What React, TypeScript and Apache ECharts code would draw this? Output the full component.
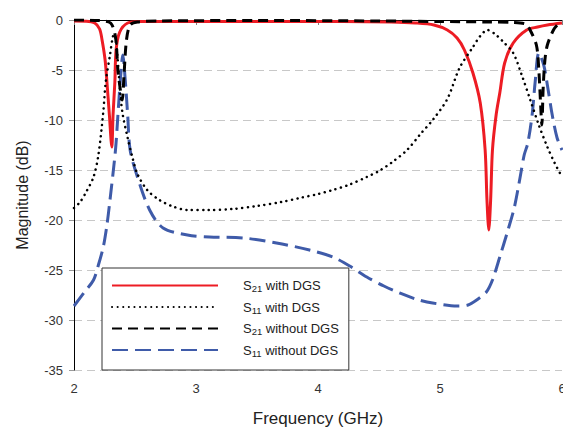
import React, { useEffect, useRef } from "react";
import * as echarts from "echarts";

// ---- Data ----
const s21DgsFreq = [2.0, 2.1, 2.17, 2.21, 2.23, 2.255, 2.27, 2.29, 2.31, 2.32, 2.335, 2.345, 2.375, 2.44, 2.54, 2.8, 3.5, 4.2, 4.6, 4.8, 4.95, 5.06, 5.14, 5.2, 5.27, 5.33, 5.37, 5.385, 5.4, 5.415, 5.43, 5.46, 5.49, 5.53, 5.6, 5.71, 5.8, 5.88, 6.0];
const s21DgsDb = [-0.1, -0.12, -0.3, -0.9, -2, -4, -6.2, -9.5, -12.7, -9.5, -6.2, -3, -1.2, -0.3, -0.15, -0.15, -0.15, -0.15, -0.2, -0.3, -0.5, -1, -1.8, -3, -5.3, -8.3, -13, -18, -21, -18, -13, -9.5, -7.3, -4.3, -2.3, -1, -0.7, -0.5, -0.3];

const s11DgsFreq = [2.0, 2.05, 2.1, 2.16, 2.2, 2.24, 2.26, 2.295, 2.32, 2.335, 2.355, 2.38, 2.4, 2.44, 2.48, 2.52, 2.6, 2.7, 2.8, 2.93, 3.1, 3.3, 3.5, 3.7, 3.85, 4.0, 4.12, 4.25, 4.4, 4.5, 4.61, 4.73, 4.84, 4.94, 5.06, 5.16, 5.27, 5.33, 5.39, 5.45, 5.52, 5.6, 5.67, 5.74, 5.81, 5.88, 5.94, 6.0];
const s11DgsDb = [-18.8, -18.2, -17.2, -15.7, -13.5, -9.2, -6.2, -3.5, -1.6, -1.5, -3.5, -7.5, -9.5, -11.8, -13.8, -15.4, -17, -18, -18.6, -19, -19, -18.9, -18.6, -18.2, -17.8, -17.4, -17, -16.5, -15.7, -15.1, -14.2, -13, -11.4, -10, -7.9, -4.8, -2.7, -1.6, -1.0, -1.4, -2.2, -3.3, -5.5, -8, -10.5, -12.7, -14.3, -15.7];

const s21NoDgsFreq = [2.0, 2.2, 2.3, 2.34, 2.36, 2.38, 2.395, 2.41, 2.43, 2.46, 2.52, 2.7, 3.5, 4.5, 5.0, 5.4, 5.6, 5.7, 5.73, 5.79, 5.81, 5.825, 5.835, 5.845, 5.86, 5.88, 5.93, 5.97, 6.0];
const s21NoDgsDb = [0, -0.05, -0.3, -1.7, -5, -7, -8, -5.5, -2, -0.5, -0.2, -0.1, -0.05, -0.1, -0.15, -0.2, -0.25, -0.4, -0.8, -2.5, -5, -8.5, -10.5, -7, -4, -2.5, -1, -0.4, -0.2];

const s11NoDgsFreq = [2.0, 2.08, 2.16, 2.2, 2.24, 2.27, 2.295, 2.34, 2.36, 2.38, 2.4, 2.42, 2.44, 2.46, 2.52, 2.62, 2.73, 2.93, 3.11, 3.39, 3.66, 3.93, 4.12, 4.26, 4.4, 4.54, 4.67, 4.8, 4.94, 5.14, 5.23, 5.3, 5.38, 5.43, 5.49, 5.55, 5.61, 5.66, 5.69, 5.72, 5.755, 5.78, 5.81, 5.85, 5.88, 5.92, 5.96, 6.0];
const s11NoDgsDb = [-28.6, -27.3, -26, -24.5, -22.7, -20.5, -18, -13, -9.5, -6, -3.5, -6, -9.5, -13, -15.7, -19, -20.8, -21.5, -21.7, -21.8, -22.3, -23, -23.7, -24.6, -25.7, -26.6, -27.3, -27.9, -28.3, -28.6, -28.5, -28, -27.2, -26, -23.7, -21.3, -18.7, -15.5, -13.5, -12.3, -9.5, -6.2, -3.3, -4.5, -6.5, -9.5, -11.8, -13];

const seriesNames = ["S21 with DGS", "S11 with DGS", "S21 without DGS", "S11 without DGS"];
const xTicks = { min: 2, max: 6, interval: 1 };
const yTicks = { min: -35, max: 0, interval: 5 };

const zip = (xs: number[], ys: number[]) => xs.map((x, i) => [x, ys[i]]);

const FONT = "'Liberation Sans', Arial, sans-serif";

export default function App() {
  const ref = useRef<HTMLDivElement>(null);
  useEffect(() => {
    if (!ref.current) return;
    const chart = echarts.init(ref.current, undefined, { renderer: "svg" });
    chart.setOption({
      animation: false,
      backgroundColor: "#ffffff",
      textStyle: { fontFamily: FONT },
      grid: { left: 74, right: 1, top: 20, bottom: 59, containLabel: false, outerBoundsMode: "none" },
      legend: {
        orient: "vertical",
        left: 102,
        top: 268,
        data: seriesNames,
        itemWidth: 106,
        itemHeight: 14,
        itemGap: 7,
        padding: [11, 10, 12, 9],
        borderColor: "#333",
        borderWidth: 1,
        backgroundColor: "#ffffff",
        itemStyle: { opacity: 0 },
        formatter: (name: string) => {
          const m = name.match(/^S(\d+)(.*)$/);
          if (!m) return name;
          return `{gap|}{b|S}{sub|${m[1]}}{b|${m[2]}}`;
        },
        textStyle: {
          fontFamily: FONT,
          fontSize: 13,
          color: "#222",
          rich: {
            gap: { width: 20 },
            b: { fontSize: 13, fontFamily: FONT, color: "#222", lineHeight: 16 },
            sub: { fontSize: 9.5, fontFamily: FONT, color: "#222", lineHeight: 8, verticalAlign: "bottom" },
          },
        },
      },
      xAxis: [
        {
          type: "value",
          ...xTicks,
          name: "Frequency (GHz)",
          nameLocation: "middle",
          nameGap: 40,
          nameTextStyle: { fontSize: 17, color: "#222", fontFamily: FONT },
          axisLine: { show: true, lineStyle: { color: "#404040", width: 1 } },
          axisTick: { show: true, length: 5, lineStyle: { color: "#808080" } },
          axisLabel: { fontSize: 13, color: "#333", margin: 12, fontFamily: FONT },
          splitLine: { show: false },
        },
        {
          type: "value",
          ...xTicks,
          position: "top",
          axisLine: { show: true, onZero: false, lineStyle: { color: "#000", width: 1 } },
          axisTick: { show: false },
          axisLabel: { show: false },
          splitLine: { show: false },
        },
      ],
      yAxis: {
        type: "value",
        ...yTicks,
        name: "Magnitude (dB)",
        nameLocation: "middle",
        nameGap: 44,
        nameTextStyle: { fontSize: 16, color: "#222", fontFamily: FONT },
        axisLine: { show: true, onZero: false, lineStyle: { color: "#000", width: 1 } },
        axisTick: { show: true, length: 5, lineStyle: { color: "#999" } },
        axisLabel: { fontSize: 13, color: "#333", margin: 11, fontFamily: FONT },
        splitLine: { show: true, lineStyle: { color: "#c8c8c8", type: [8, 5], width: 1 } },
      },
      series: [
        {
          name: seriesNames[0],
          type: "line",
          data: zip(s21DgsFreq, s21DgsDb),
          symbol: "none",
          smooth: 0.3,
          z: 3,
          lineStyle: { color: "#ED1C24", width: 3 },
          itemStyle: { color: "#ED1C24" },
        },
        {
          name: seriesNames[1],
          type: "line",
          data: zip(s11DgsFreq, s11DgsDb),
          symbol: "none",
          smooth: 0.3,
          z: 4,
          lineStyle: { color: "#000", width: 2.5, type: [0.1, 5.5], cap: "round" },
          itemStyle: { color: "#000" },
        },
        {
          name: seriesNames[2],
          type: "line",
          data: zip(s21NoDgsFreq, s21NoDgsDb),
          symbol: "none",
          smooth: 0.3,
          z: 5,
          lineStyle: { color: "#000", width: 3, type: [10, 6] },
          itemStyle: { color: "#000" },
        },
        {
          name: seriesNames[3],
          type: "line",
          data: zip(s11NoDgsFreq, s11NoDgsDb),
          symbol: "none",
          smooth: 0.3,
          z: 2,
          lineStyle: { color: "#3F5BA9", width: 3, type: [16, 7] },
          itemStyle: { color: "#3F5BA9" },
        },
      ],
    });
    return () => chart.dispose();
  }, []);
  return (
    <div
      ref={ref}
      style={{ position: "fixed", left: 0, top: 0, width: 563, height: 429, background: "#fff" }}
    />
  );
}
